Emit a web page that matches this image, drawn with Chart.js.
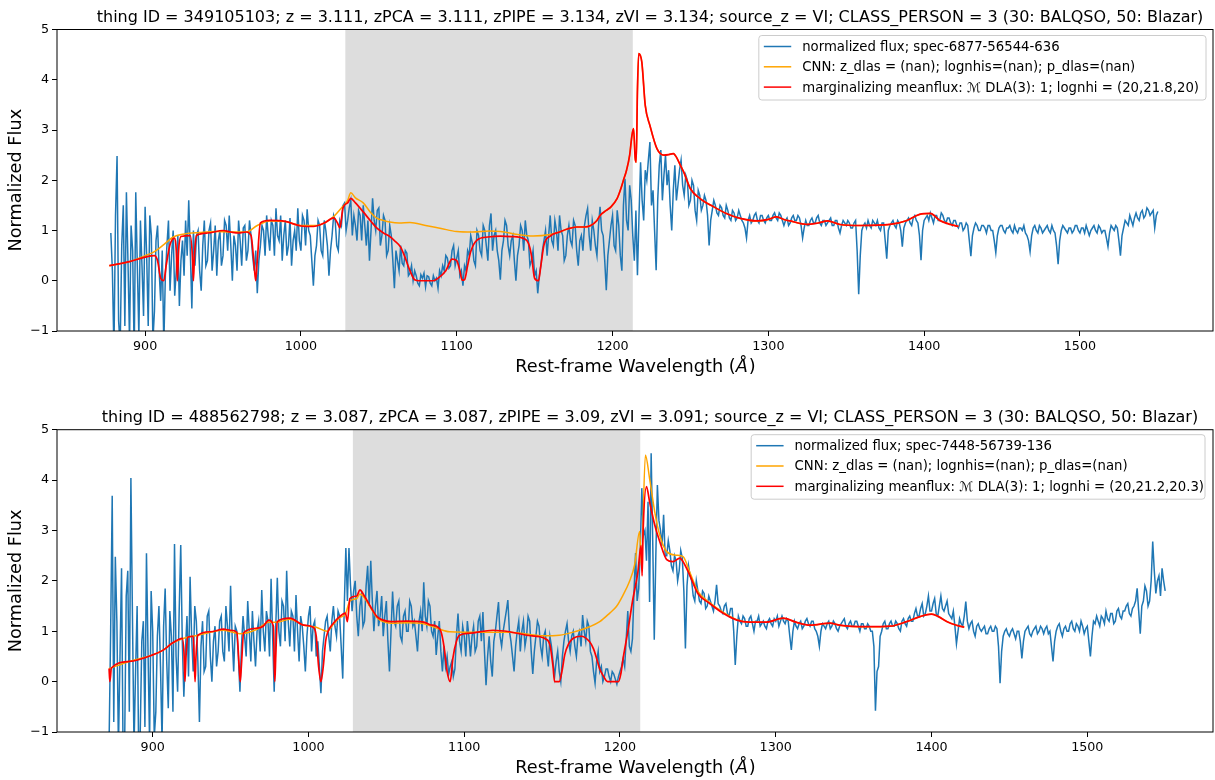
<!DOCTYPE html>
<html>
<head>
<meta charset="utf-8">
<script src="https://cdn.jsdelivr.net/npm/chart.js@4.4.0/dist/chart.umd.min.js"></script>
<style>
  html, body { margin: 0; padding: 0; background: #ffffff; }
  #wrap { position: relative; width: 1215px; height: 780px; overflow: hidden; }
  canvas { position: absolute; left: 0; }
</style>
</head>
<body>
<div id="wrap">
  <canvas id="panelTop" width="1215" height="400" style="top:0"></canvas>
  <canvas id="panelBottom" width="1215" height="380" style="top:400px"></canvas>
</div>
<script>
// ---------- shared axis ticks ----------
const xTickValues = [900, 1000, 1100, 1200, 1300, 1400, 1500];
const yTickValues = [-1, 0, 1, 2, 3, 4, 5];

// ---------- upper panel: thing ID 349105103 ----------
const topTitle = "thing ID = 349105103; z = 3.111, zPCA = 3.111, zPIPE = 3.134, zVI = 3.134; source_z = VI; CLASS_PERSON = 3 (30: BALQSO, 50: Blazar)";
const topLegend = [
  "normalized flux; spec-6877-56544-636",
  "CNN: z_dlas = (nan); lognhis=(nan); p_dlas=(nan)",
  "marginalizing meanflux: \u2133 DLA(3): 1; lognhi = (20,21.8,20)"
];
const topWaveStart = 878;   // first pixel, Angstrom (rest frame)
const topWaveStep = 1;      // pixel spacing, Angstrom
const topFlux = [
  0.95, 0.2, -1.4, 1.3, 2.48, -0.8, -1.3, 0.7, 1.5, -0.9, 1.76, 0.4, -1.2, 1.1, 0.6, -1.5, 1.76, 0.3, -1.1, 1.2,
  0.3, -0.7, 1.47, 0.5, -0.9, 1.3, 0.9, -1.2, -0.6, 0.8, 1.1, 0.2, -0.4, 0.6, -1.3, 0.1, 0.7, 1.2, -0.2, 0.5,
  1.0, -0.3, 0.2, 0.9, -0.5, 0.4, 0.8, 0.1, 1.2, 0.5, 1.6, 0.6, -0.55, 1.0, 0.3, 0.9, 1.0, 0.2, -0.2, 0.7,
  1.2, 0.3, 0.4, 1.0, 1.15, 0.2, 0.6, 1.1, 0.1, 0.8, 1.0, 0.3, 0.5, 1.2, 1.1, 0.6, 1.3, 0.7, 0.0, 0.9,
  0.7, 0.2, 1.2, 0.8, 0.3, 1.05, 1.1, 0.4, 0.6, 1.2, 0.9, 0.5, 0.2, 0.6, -0.25, 0.4, 0.7, 1.1, 1.0, 0.5,
  1.3, 0.9, 0.6, 1.2, 1.1, 0.5, 1.44, 0.9, 0.8, 1.3, 0.4, 0.9, 1.2, 0.5, 0.7, 1.25, 0.3, 0.8, 1.0, 0.6,
  1.44, 0.8, 0.6, 1.3, 1.2, 0.7, 1.42, 1.0, 0.9, 0.4, -0.1, 0.5, 0.7, 1.2, 1.1, 0.6, 0.5, 1.2, 1.0, 0.7,
  0.1, 0.6, 0.9, 1.3, 1.2, 0.7, 0.6, 1.2, 1.1, 1.5, 1.55, 1.0, 1.2, 1.45, 1.6, 0.9, 1.3, 1.1, 0.8, 1.4,
  1.3, 0.8, 1.5, 1.1, 0.7, 1.2, 0.4, 1.0, 1.64, 1.2, 1.0, 1.4, 1.45, 0.7, 0.9, 1.3, 1.2, 0.5, 0.6, 1.1,
  0.9, 0.4, -0.15, 0.6, 0.4, 0.2, 0.7, 0.35, 0.3, 0.6, 0.55, 0.1, 0.15, 0.3, 0.0, 0.2, 0.1, -0.05, -0.1, 0.12,
  0.05, 0.15, -0.12, 0.1, 0.08, -0.05, -0.1, 0.1, 0.0, 0.05, -0.15, 0.2, 0.1, 0.3, 0.2, 0.5, 0.45, 0.25, 0.3, 0.6,
  0.7, 0.3, 0.45, 0.6, 0.1, 0.2, -0.1, 0.3, 0.2, 0.6, 0.5, 0.9, 0.75, 0.4, 0.3, 1.0, 0.9, 0.6, 0.5, 1.1,
  1.0, 0.7, 0.4, 1.1, 1.34, 0.6, 0.9, 1.0, 0.6, 0.4, 0.02, 0.6, 0.8, 1.2, 1.1, 0.7, 0.5, 0.8, 0.9, 0.4,
  0.0, 0.5, 0.7, 1.1, 1.0, 0.6, 1.2, 0.9, 0.8, 0.3, 0.4, 0.6, 0.1, 0.2, -0.25, 0.1, 0.3, 0.6, 0.8, 1.0,
  0.5, 0.9, 1.3, 0.8, 0.7, 1.2, 1.0, 0.6, 1.3, 1.0, 0.9, 0.4, 0.5, 0.9, 1.1, 0.8, 0.7, 1.2, 1.1, 0.6,
  0.3, 0.8, 0.9, 0.6, 1.1, 1.3, 1.44, 0.9, 0.6, 1.2, 1.0, 0.7, 0.5, 1.1, 1.47, 1.0, 0.9, 0.4, -0.19, 0.5,
  0.8, 1.1, 1.3, 0.7, 0.6, 1.4, 1.1, 0.5, 0.2, 1.5, 2.03, 1.2, 1.0, 1.9, 1.6, 0.9, 0.4, 1.4, 0.11, 1.3,
  2.36, 1.6, 1.2, 2.2, 2.0, 2.4, 2.76, 1.5, 1.8, 1.0, 0.21, 1.6, 2.3, 2.6, 1.6, 2.1, 2.5, 1.9, 2.2, 1.5,
  1.0, 1.8, 2.3, 1.6, 1.9, 2.2, 2.4, 1.9, 1.7, 2.1, 2.0, 1.5, 1.6, 2.0, 1.9, 1.4, 1.2, 1.8, 1.7, 1.4,
  1.5, 1.7, 1.6, 1.3, 0.7, 1.2, 1.4, 1.6, 1.5, 1.35, 1.3, 1.5, 1.45, 1.3, 1.25, 1.5, 1.4, 1.25, 1.2, 1.4,
  1.35, 1.2, 1.25, 1.4, 1.3, 1.2, 1.15, 1.05, 0.85, 1.2, 1.3, 1.15, 1.2, 1.3, 1.35, 1.2, 1.15, 1.3, 1.3, 1.2,
  1.15, 1.25, 1.3, 1.2, 1.2, 1.3, 1.35, 1.25, 1.2, 1.35, 1.3, 1.2, 1.1, 1.2, 1.25, 1.1, 1.15, 1.25, 1.3, 1.2,
  1.2, 1.3, 1.25, 1.1, 0.85, 1.05, 1.2, 1.1, 1.1, 1.2, 1.25, 1.15, 1.15, 1.25, 1.3, 1.15, 1.1, 1.2, 1.2, 1.1,
  1.15, 1.2, 1.25, 1.1, 1.1, 1.2, 1.2, 1.05, 0.95, 1.1, 1.2, 1.15, 1.1, 1.2, 1.15, 1.05, 1.05, 1.15, 1.2, 0.6,
  -0.27, 0.5, 1.0, 1.1, 1.15, 1.05, 1.2, 1.1, 1.05, 1.2, 1.15, 1.1, 1.2, 1.05, 1.0, 1.15, 1.15, 0.8, 0.44, 1.0,
  1.1, 1.15, 1.2, 1.1, 1.05, 1.2, 1.15, 1.0, 0.68, 1.05, 1.15, 1.2, 1.25, 1.15, 1.1, 1.25, 1.3, 1.2, 1.15, 0.9,
  0.41, 1.0, 1.2, 1.25, 1.3, 1.2, 1.35, 1.25, 1.15, 1.3, 1.3, 1.2, 1.2, 1.35, 1.3, 1.2, 1.15, 1.25, 1.25, 1.15,
  1.1, 1.2, 1.2, 1.1, 1.05, 1.15, 1.15, 1.0, 1.05, 1.15, 1.1, 0.8, 0.49, 0.9, 1.05, 1.15, 1.1, 1.0, 1.0, 1.1,
  1.1, 1.05, 0.95, 1.1, 1.1, 1.0, 1.0, 0.8, 0.56, 0.9, 1.05, 1.1, 1.1, 1.0, 0.95, 1.05, 1.05, 1.1, 1.0, 0.95,
  1.1, 1.0, 0.95, 1.05, 1.05, 1.0, 1.1, 0.95, 0.9, 0.8, 0.58, 0.9, 1.05, 1.1, 1.0, 0.95, 1.1, 1.05, 0.95, 1.0,
  1.05, 1.1, 1.0, 0.95, 1.1, 1.0, 0.95, 0.7, 0.33, 0.8, 1.0, 1.1, 1.05, 1.0, 0.95, 1.05, 1.05, 0.95, 1.0, 1.1,
  1.1, 1.0, 0.95, 1.05, 1.05, 0.95, 1.1, 1.0, 0.9, 1.0, 1.05, 1.1, 1.0, 0.95, 1.1, 1.05, 0.95, 1.0, 1.0, 0.85,
  0.68, 0.95, 1.1, 1.05, 1.0, 1.1, 1.05, 0.8, 0.5, 0.9, 1.05, 1.2, 1.15, 1.1, 1.3, 1.2, 1.1, 1.25, 1.35, 1.25,
  1.2, 1.35, 1.4, 1.25, 1.3, 1.45, 1.4, 1.3, 1.35, 1.4, 1.05, 1.3, 1.38
];
const topCnnWave = [877, 890, 900, 906, 912, 918, 925, 935, 945, 955, 965, 972, 980, 990, 1000, 1010, 1020, 1026, 1030, 1032, 1035, 1040, 1045, 1049, 1053, 1057, 1063, 1070, 1080, 1090, 1100, 1110, 1121, 1128, 1139, 1149, 1160, 1166, 1171, 1177, 1182, 1186, 1190, 1192, 1196, 1199, 1203, 1205, 1207, 1209, 1211, 1212.5, 1213.5, 1214.5, 1215.2, 1216, 1216.8, 1218.8, 1221, 1224, 1228.5, 1233, 1236, 1239, 1241, 1243.5, 1245.6, 1250, 1256, 1265, 1273, 1282, 1293, 1300, 1305, 1310, 1314, 1325, 1332, 1338, 1346, 1359, 1378, 1389, 1397, 1404, 1410, 1417, 1422];
const topCnnFlux = [0.3, 0.38, 0.5, 0.58, 0.72, 0.87, 0.93, 0.96, 0.98, 0.97, 0.97, 1.1, 1.19, 1.18, 1.1, 1.1, 1.25, 1.45, 1.6, 1.75, 1.65, 1.55, 1.35, 1.24, 1.2, 1.17, 1.15, 1.16, 1.1, 1.04, 0.98, 0.97, 0.99, 0.98, 0.92, 0.89, 0.92, 0.97, 1.03, 1.07, 1.07, 1.1, 1.2, 1.3, 1.4, 1.47, 1.64, 1.8, 2.0, 2.2, 2.5, 2.9, 3.03, 2.45, 2.36, 3.8, 4.52, 4.35, 3.49, 3.09, 2.63, 2.5, 2.51, 2.53, 2.46, 2.3, 2.17, 1.83, 1.64, 1.47, 1.34, 1.24, 1.19, 1.22, 1.27, 1.22, 1.19, 1.12, 1.15, 1.19, 1.12, 1.1, 1.12, 1.2, 1.32, 1.34, 1.2, 1.12, 1.08];
const topMfWave = [877, 890, 900, 906, 908, 910, 912, 913.5, 916, 919, 920, 920.7, 921.5, 923, 929, 930.5, 931, 931.7, 933, 940, 950, 955, 960, 965, 968, 970, 971, 972, 974, 980, 990, 1000, 1008, 1015, 1021, 1023.5, 1025, 1027, 1030, 1032, 1035, 1040, 1045, 1049, 1053, 1057, 1060, 1064, 1067, 1070, 1073, 1076, 1085, 1088, 1093, 1097, 1100, 1102, 1103.5, 1105, 1107, 1109, 1113, 1120, 1128, 1135, 1143, 1146, 1148, 1150, 1152.5, 1154, 1156, 1160, 1166, 1171, 1177, 1182, 1186, 1190, 1192, 1196, 1199, 1203, 1205, 1207, 1209, 1211, 1212.5, 1213.5, 1214.5, 1215.2, 1216, 1216.8, 1218.8, 1221, 1224, 1228.5, 1233, 1236, 1239, 1241, 1243.5, 1245.6, 1250, 1256, 1265, 1273, 1282, 1293, 1300, 1305, 1310, 1314, 1325, 1332, 1338, 1346, 1359, 1378, 1389, 1397, 1404, 1410, 1417, 1422];
const topMfFlux = [0.3, 0.38, 0.47, 0.5, 0.4, 0.05, 0.0, 0.3, 0.72, 0.85, 0.6, 0.0, 0.6, 0.88, 0.9, 0.4, 0.0, 0.5, 0.9, 0.95, 1.0, 0.97, 0.95, 0.97, 0.9, 0.3, 0.0, 0.4, 1.15, 1.2, 1.18, 1.09, 1.08, 1.15, 1.25, 1.15, 1.05, 1.45, 1.55, 1.64, 1.55, 1.37, 1.18, 1.04, 0.95, 0.88, 0.8, 0.67, 0.45, 0.2, 0.02, 0.0, 0.0, 0.05, 0.2, 0.43, 0.4, 0.2, 0.01, 0.02, 0.3, 0.58, 0.81, 0.87, 0.89, 0.88, 0.84, 0.75, 0.5, 0.05, 0.0, 0.3, 0.71, 0.89, 0.97, 1.03, 1.07, 1.07, 1.1, 1.2, 1.3, 1.4, 1.47, 1.64, 1.8, 2.0, 2.2, 2.5, 2.9, 3.03, 2.45, 2.36, 3.8, 4.52, 4.35, 3.49, 3.09, 2.63, 2.5, 2.51, 2.53, 2.46, 2.3, 2.17, 1.83, 1.64, 1.47, 1.34, 1.24, 1.19, 1.22, 1.27, 1.22, 1.19, 1.12, 1.15, 1.19, 1.12, 1.1, 1.12, 1.2, 1.32, 1.34, 1.2, 1.12, 1.08];
const topSearchRange = [1028.5, 1213];

// ---------- lower panel: thing ID 488562798 ----------
const bottomTitle = "thing ID = 488562798; z = 3.087, zPCA = 3.087, zPIPE = 3.09, zVI = 3.091; source_z = VI; CLASS_PERSON = 3 (30: BALQSO, 50: Blazar)";
const bottomLegend = [
  "normalized flux; spec-7448-56739-136",
  "CNN: z_dlas = (nan); lognhis=(nan); p_dlas=(nan)",
  "marginalizing meanflux: \u2133 DLA(3): 1; lognhi = (20,21.2,20.3)"
];
const bottomWaveStart = 872;
const bottomWaveStep = 1;
const bottomFlux = [
  -1.2, 1.0, 3.69, -0.8, 2.48, 1.2, -1.3, 0.5, 2.25, -1.5, -1.2, 1.7, 2.2, -0.6, 4.04, 1.3, -1.3, 0.2, 1.5, -1.4,
  -1.0, 0.8, 1.2, -0.9, 2.55, 0.6, -1.2, 1.8, 1.0, -1.1, -0.6, 0.9, 1.5, 0.3, -1.2, 1.1, 1.85, 0.4, -0.53, 1.4,
  0.9, -0.6, 2.73, 0.5, -0.2, 1.4, 2.71, 0.8, -0.3, 0.6, 1.3, 0.1, 2.08, 0.9, 0.2, 1.5, 1.2, 0.4, -0.8, 0.7,
  1.2, 0.2, 0.3, 1.3, 1.4, 0.5, 0.0, 0.8, 1.1, 0.3, 0.6, 1.2, 1.3, 0.6, 0.4, 1.5, 1.1, 0.6, 1.9, 0.9,
  0.2, 1.1, 1.0, 0.5, -0.2, 0.7, 1.3, 0.9, 0.5, 1.6, 1.0, 0.4, 1.4, 0.8, 0.3, 1.0, 1.2, 0.6, 1.82, 1.0,
  0.6, 1.4, 1.2, 0.5, 2.04, 0.9, -0.2, 1.1, 2.06, 1.0, 0.7, 1.6, 1.5, 0.8, 2.2, 1.2, 0.7, 1.4, 1.3, 0.6,
  1.72, 1.0, 0.4, 1.3, 1.1, 0.7, 0.2, 0.9, 1.3, 1.5, 0.6, 1.1, 1.2, 0.5, 0.8, 0.3, -0.23, 0.6, 0.9, 1.2,
  1.3, 0.9, 0.6, 1.2, 1.5, 1.1, 0.9, 1.4, 1.3, 0.7, 0.06, 1.5, 2.65, 1.6, 2.65, 1.9, 1.4, 1.8, 2.0, 1.3,
  0.9, 1.5, 1.7, 1.1, 1.2, 1.9, 2.3, 1.5, 2.4, 1.6, 1.0, 1.5, 1.8, 1.1, 1.3, 1.7, 0.9, 1.3, 1.6, 0.8,
  0.2, 1.0, 1.79, 1.2, 1.1, 1.5, 1.6, 0.9, 0.8, 1.3, 1.4, 1.0, 1.0, 1.6, 1.5, 1.1, 1.2, 0.9, 0.6, 1.2,
  1.4, 1.0, 1.97, 1.3, 1.1, 1.6, 1.5, 1.0, 0.9, 1.2, 0.53, 0.9, 1.2, 0.6, 0.2, 0.7, 0.3, 0.5, 0.15, 0.3,
  0.4, 0.1, 0.25, 0.9, 1.35, 0.8, 0.6, 1.1, 0.9, 0.5, 1.2, 0.9, 0.5, 0.9, 1.1, 0.6, 0.7, 1.2, 1.3, 0.8,
  1.38, 0.6, -0.07, 0.5, 0.9, 0.4, 0.1, 0.8, 1.0, 1.3, 1.58, 0.9, 0.7, 1.0, 1.2, 1.4, 1.62, 1.0, 0.8, 0.5,
  0.2, 0.7, 1.0, 1.2, 0.6, 1.0, 1.2, 0.7, 0.9, 1.3, 1.2, 0.6, 0.15, 0.6, 0.9, 1.2, 1.1, 0.7, 0.5, 0.9,
  1.0, 0.6, 0.3, 0.9, 0.7, 0.4, 0.1, 0.4, 0.6, 0.2, 0.0, 0.5, 0.8, 1.0, 1.15, 0.8, 0.6, 0.9, 1.0, 0.7,
  0.5, 0.9, 1.0, 0.7, 1.32, 1.0, 0.8, 1.2, 1.1, 0.6, 0.5, 0.2, -0.03, 0.4, 0.6, 0.2, 0.3, 0.0, 0.1, 0.25,
  0.25, 0.1, 0.0, 0.2, 0.15, 0.05, -0.05, 0.1, 0.2, 0.3, 0.45, 0.3, 0.85, 1.4, 0.7, 0.6, 0.85, 1.8, 2.55, 1.6,
  1.85, 2.6, 3.84, 2.9, 3.0, 2.4, 3.57, 1.58, 4.53, 2.8, 0.83, 2.5, 3.9, 3.2, 3.0, 2.7, 3.31, 2.5, 2.5, 2.8,
  2.6, 2.3, 2.2, 2.5, 2.4, 2.0, 2.2, 2.6, 2.45, 1.8, 0.66, 1.9, 2.3, 2.1, 2.0, 1.7, 1.6, 2.0, 1.8, 1.6,
  1.55, 1.8, 1.75, 1.45, 1.5, 1.7, 1.6, 1.5, 1.4, 1.6, 1.92, 1.55, 1.5, 1.4, 1.35, 1.5, 1.55, 1.35, 1.3, 1.45,
  1.45, 1.0, 0.33, 0.9, 1.3, 1.2, 1.15, 1.3, 1.25, 1.1, 1.1, 1.25, 1.3, 1.15, 1.0, 1.2, 1.2, 1.3, 1.1, 1.15,
  1.2, 1.1, 1.05, 1.2, 1.25, 1.15, 1.1, 1.25, 1.2, 1.3, 1.1, 1.2, 1.3, 1.2, 1.15, 1.25, 1.2, 0.9, 0.63, 1.0,
  1.2, 1.1, 1.05, 1.15, 1.2, 1.05, 1.1, 1.2, 1.25, 1.15, 1.1, 1.2, 1.2, 1.05, 1.0, 0.9, 0.7, 1.0, 1.15, 1.1,
  1.05, 1.15, 1.2, 1.05, 1.1, 1.2, 1.15, 1.05, 1.0, 1.1, 1.15, 1.2, 1.25, 1.1, 1.05, 1.15, 1.2, 1.1, 1.1, 1.2,
  1.2, 1.1, 1.0, 1.15, 1.15, 1.05, 1.05, 1.15, 1.1, 1.0, 1.0, 0.7, -0.58, 0.2, 0.3, 0.9, 1.0, 1.15, 1.2, 1.05,
  1.05, 1.15, 1.2, 1.1, 1.1, 1.2, 1.15, 1.05, 1.0, 1.2, 1.25, 1.15, 1.1, 1.25, 1.3, 1.2, 1.2, 1.35, 1.45, 1.3,
  1.3, 1.45, 1.55, 1.3, 1.35, 1.5, 1.7, 1.4, 1.4, 1.55, 1.65, 1.35, 1.3, 1.5, 1.7, 1.45, 1.4, 1.5, 1.6, 1.35,
  1.3, 1.25, 1.4, 1.1, 0.75, 1.0, 1.25, 1.15, 1.1, 1.3, 1.59, 1.2, 1.05, 1.15, 1.2, 1.0, 0.9, 1.1, 1.15, 1.05,
  1.0, 1.05, 1.1, 0.95, 0.95, 1.05, 1.1, 1.0, 1.0, 1.1, 1.05, 0.7, -0.03, 0.6, 0.9, 1.0, 1.05, 0.95, 0.9, 1.0,
  1.05, 0.95, 0.85, 1.0, 1.0, 0.8, 0.46, 0.8, 1.0, 1.05, 1.1, 0.95, 0.9, 1.0, 1.05, 1.1, 0.95, 1.0, 1.1, 1.05,
  0.95, 1.05, 1.1, 0.95, 1.0, 0.7, 0.4, 0.8, 1.0, 1.1, 1.15, 1.0, 0.9, 1.05, 1.1, 1.0, 1.0, 1.15, 1.2, 1.05,
  1.0, 1.15, 1.1, 1.0, 1.2, 1.1, 0.95, 1.05, 1.1, 0.8, 0.5, 0.9, 1.2, 1.15, 1.3, 1.2, 1.1, 1.3, 1.25, 1.15,
  1.4, 1.25, 1.2, 1.35, 1.35, 1.15, 1.2, 1.4, 1.45, 1.3, 1.25, 1.4, 1.4, 1.5, 1.55, 1.35, 1.3, 1.45, 1.5, 1.6,
  1.85, 1.4, 0.95, 1.5, 1.6, 1.9, 1.8, 1.5, 1.6, 2.0, 2.78, 2.2, 1.75, 2.0, 2.1, 1.7, 2.25, 2.0, 1.8
];
const bottomCnnWave = [872, 885, 900, 907, 912.4, 920, 929, 937, 945.6, 956, 967, 974.5, 980, 988, 997, 1005, 1012, 1016, 1020, 1023.7, 1026.6, 1031, 1033, 1035.5, 1039.8, 1044, 1048, 1053, 1063, 1074, 1082.6, 1090.6, 1112, 1129, 1150.6, 1161, 1172, 1180.5, 1187, 1193.4, 1197.7, 1202, 1206, 1209.4, 1212.6, 1213.7, 1216.3, 1219, 1222.3, 1225.5, 1230, 1236, 1240.5, 1244.7, 1250, 1257.6, 1266, 1275, 1283, 1294, 1304.7, 1313, 1322, 1335, 1341, 1358.4, 1373.4, 1384, 1392.7, 1400, 1404.5, 1410, 1416, 1421];
const bottomCnnFlux = [0.26, 0.4, 0.53, 0.63, 0.76, 0.86, 0.92, 0.98, 1.02, 0.95, 1.04, 1.18, 1.18, 1.24, 1.12, 1.08, 1.0, 1.14, 1.27, 1.34, 1.6, 1.65, 1.74, 1.68, 1.47, 1.27, 1.19, 1.16, 1.17, 1.15, 1.06, 0.99, 0.98, 0.98, 0.91, 0.92, 1.0, 1.09, 1.19, 1.36, 1.49, 1.72, 1.98, 2.32, 2.98, 2.3, 4.5, 4.03, 3.37, 2.91, 2.58, 2.51, 2.48, 2.18, 1.79, 1.57, 1.38, 1.23, 1.18, 1.18, 1.26, 1.18, 1.12, 1.16, 1.12, 1.09, 1.1, 1.19, 1.29, 1.34, 1.29, 1.19, 1.12, 1.08];
const bottomMfWave = [872, 872.5, 873.5, 885, 900, 907, 912.4, 919, 920.2, 920.7, 921.4, 922.5, 926, 926.7, 927.2, 927.8, 929, 937, 945.6, 950, 954, 955.5, 956.2, 957, 958.4, 967, 971, 974.5, 977.5, 978, 978.4, 979, 980, 988, 997, 1003, 1005, 1006.5, 1008, 1009.5, 1011, 1012.5, 1016, 1020, 1023.7, 1025, 1026.6, 1031, 1033, 1035.5, 1039.8, 1044, 1048, 1053, 1063, 1074, 1078, 1082.6, 1085, 1087, 1089, 1091, 1092.7, 1095, 1097, 1103.5, 1118.5, 1129, 1140, 1148.6, 1152, 1155, 1157, 1158, 1161, 1163, 1164.5, 1167, 1170, 1175, 1180.5, 1183, 1185, 1187, 1189, 1192, 1199, 1200.5, 1202, 1205, 1208, 1211.5, 1213.5, 1214.2, 1214.8, 1217, 1219, 1222.3, 1225.5, 1230, 1234, 1238.4, 1240.5, 1244.7, 1250, 1257.6, 1266, 1275, 1283, 1294, 1304.7, 1313, 1322, 1335, 1341, 1358.4, 1373.4, 1384, 1392.7, 1400, 1404.5, 1410, 1416, 1421];
const bottomMfFlux = [0.26, 0.0, 0.27, 0.4, 0.53, 0.63, 0.76, 0.86, 0.5, 0.0, 0.5, 0.88, 0.9, 0.4, 0.0, 0.5, 0.92, 0.99, 1.04, 1.02, 0.98, 0.3, 0.0, 0.35, 0.97, 1.06, 1.1, 1.22, 1.1, 0.4, 0.0, 0.5, 1.19, 1.26, 1.12, 1.08, 0.9, 0.3, 0.0, 0.3, 0.8, 0.99, 1.16, 1.29, 1.36, 1.19, 1.65, 1.7, 1.82, 1.72, 1.49, 1.29, 1.22, 1.19, 1.2, 1.18, 1.13, 1.09, 1.0, 0.7, 0.2, 0.0, 0.46, 0.8, 0.92, 0.96, 1.02, 0.99, 0.92, 0.89, 0.85, 0.73, 0.3, 0.0, 0.0, 0.25, 0.53, 0.75, 0.86, 0.9, 0.79, 0.65, 0.46, 0.25, 0.13, 0.0, 0.0, 0.15, 0.46, 0.99, 1.59, 2.18, 2.7, 2.1, 2.95, 3.87, 3.57, 3.11, 2.78, 2.42, 2.38, 2.45, 2.38, 2.12, 1.75, 1.55, 1.36, 1.22, 1.18, 1.18, 1.26, 1.18, 1.12, 1.16, 1.12, 1.09, 1.1, 1.19, 1.29, 1.34, 1.29, 1.19, 1.12, 1.08];
const bottomSearchRange = [1028.5, 1213];

// ---------- drawing ----------
const COLORS = { flux: '#1f77b4', cnn: '#ffa500', mf: '#ff0000', span: '#dddddd' };
const FONT = "'DejaVu Sans', 'Liberation Sans', sans-serif";

function pairs(xs, ys) { return xs.map((x, i) => ({ x: x, y: ys[i] })); }
function gridPairs(start, step, ys) { return ys.map((y, i) => ({ x: start + i * step, y: y })); }
function minusLabel(v) { return v < 0 ? '\u2212' + Math.abs(v) : String(v); }

const panelDecor = {
  id: 'panelDecor',
  beforeDatasetsDraw(chart, args, o) {
    const { ctx, chartArea: a, scales: { x } } = chart;
    const x1 = x.getPixelForValue(o.span[0]);
    const x2 = x.getPixelForValue(o.span[1]);
    ctx.save();
    ctx.fillStyle = COLORS.span;
    ctx.fillRect(x1, a.top, x2 - x1, a.bottom - a.top);
    ctx.restore();
  },
  afterDatasetsDraw(chart, args, o) {
    const { ctx, chartArea: a } = chart;
    ctx.save();
    // axes frame
    ctx.strokeStyle = '#000';
    ctx.lineWidth = 1;
    ctx.strokeRect(a.left, a.top, a.right - a.left, a.bottom - a.top);
    // legend box
    const fs = 13.25;
    ctx.font = fs + 'px ' + FONT;
    const tw = Math.max(...o.legend.map(t => ctx.measureText(t).width));
    const pad = 5, handle = 27.4, gap = 11, row = 20.3;
    const w = pad + handle + gap + tw + o.legendRightPad;
    const h = 64.5;
    const right = a.right - o.legendInsetRight;
    const left = right - w;
    const top = a.top + o.legendInsetTop;
    ctx.beginPath();
    if (ctx.roundRect) ctx.roundRect(left, top, w, h, 3); else ctx.rect(left, top, w, h);
    ctx.fillStyle = 'rgba(255,255,255,0.8)';
    ctx.fill();
    ctx.strokeStyle = '#cccccc';
    ctx.lineWidth = 1;
    ctx.stroke();
    const cols = [COLORS.flux, COLORS.cnn, COLORS.mf];
    ctx.textBaseline = 'middle';
    ctx.textAlign = 'left';
    o.legend.forEach((t, i) => {
      const y = top + 11 + i * row;
      ctx.beginPath();
      ctx.moveTo(left + pad, y);
      ctx.lineTo(left + pad + handle, y);
      ctx.strokeStyle = cols[i];
      ctx.lineWidth = 1.5;
      ctx.stroke();
      ctx.fillStyle = '#000';
      ctx.fillText(t, left + pad + handle + gap, y + 1);
    });
    ctx.restore();
  },
  afterDraw(chart, args, o) {
    const { ctx, chartArea: a } = chart;
    const cx = (a.left + a.right) / 2;
    ctx.save();
    ctx.fillStyle = '#000';
    // title
    ctx.font = '16px ' + FONT;
    ctx.textAlign = 'center';
    ctx.textBaseline = 'alphabetic';
    ctx.fillText(o.title, cx + 15, a.top - 7.5);
    // x axis label with italic Angstrom sign
    const lf = '17.7px ' + FONT;
    const lfi = 'italic 17.7px ' + FONT;
    const p1 = 'Rest-frame Wavelength (', p2 = '\u00c5', p3 = ')';
    ctx.font = lf; const w1 = ctx.measureText(p1).width, w3 = ctx.measureText(p3).width;
    ctx.font = lfi; const w2 = ctx.measureText(p2).width;
    const x0 = cx - (w1 + w2 + w3) / 2;
    const yb = a.bottom + 40.5;
    ctx.textAlign = 'left';
    ctx.font = lf; ctx.fillText(p1, x0, yb);
    ctx.font = lfi; ctx.fillText(p2, x0 + w1, yb);
    ctx.font = lf; ctx.fillText(p3, x0 + w1 + w2 + 1, yb);
    // y axis label
    ctx.translate(16.5, (a.top + a.bottom) / 2);
    ctx.rotate(-Math.PI / 2);
    ctx.font = lf;
    ctx.textAlign = 'center';
    ctx.textBaseline = 'middle';
    ctx.fillText('Normalized Flux', 0, 0);
    ctx.restore();
  }
};

function buildPanel(canvasId, p) {
  const tickFont = { family: FONT, size: 12.7 };
  return new Chart(document.getElementById(canvasId), {
    type: 'line',
    data: {
      datasets: [
        { label: p.legend[0], order: 3, data: gridPairs(p.waveStart, p.waveStep, p.flux), borderColor: COLORS.flux, borderWidth: 1.5, pointRadius: 0, tension: 0 },
        { label: p.legend[1], order: 2, data: pairs(p.cnnWave, p.cnnFlux), borderColor: COLORS.cnn, borderWidth: 1.5, pointRadius: 0, cubicInterpolationMode: 'monotone' },
        { label: p.legend[2], order: 1, data: pairs(p.mfWave, p.mfFlux), borderColor: COLORS.mf, borderWidth: 1.7, pointRadius: 0, cubicInterpolationMode: 'monotone' }
      ]
    },
    options: {
      responsive: false,
      animation: false,
      parsing: false,
      normalized: true,
      events: [],
      layout: { padding: { top: p.padTop, right: 2, left: 0, bottom: 0 } },
      plugins: {
        legend: { display: false },
        tooltip: { enabled: false },
        title: { display: false },
        panelDecor: {
          span: p.span, legend: p.legend, title: p.title,
          legendInsetRight: p.legendInsetRight, legendInsetTop: p.legendInsetTop, legendRightPad: p.legendRightPad
        }
      },
      scales: {
        x: {
          type: 'linear', min: p.xmin, max: p.xmax,
          afterBuildTicks: s => { s.ticks = xTickValues.map(v => ({ value: v })); },
          afterFit: s => { s.height = p.xAxisHeight; },
          grid: { display: true, drawOnChartArea: false, drawTicks: true, tickLength: 5, color: '#000', lineWidth: 1 },
          border: { display: false },
          ticks: { color: '#000', font: tickFont, padding: 3, maxRotation: 0, autoSkip: false, callback: v => String(v) }
        },
        y: {
          type: 'linear', min: -1, max: 5,
          afterBuildTicks: s => { s.ticks = yTickValues.map(v => ({ value: v })); },
          afterFit: s => { s.width = 57; },
          grid: { display: true, drawOnChartArea: false, drawTicks: true, tickLength: 5, color: '#000', lineWidth: 1 },
          border: { display: false },
          ticks: { color: '#000', font: tickFont, padding: 3, autoSkip: false, callback: v => minusLabel(v) }
        }
      }
    },
    plugins: [panelDecor]
  });
}

buildPanel('panelTop', {
  title: topTitle, legend: topLegend,
  waveStart: topWaveStart, waveStep: topWaveStep, flux: topFlux,
  cnnWave: topCnnWave, cnnFlux: topCnnFlux, mfWave: topMfWave, mfFlux: topMfFlux,
  span: topSearchRange, xmin: 843.45, xmax: 1585.4,
  padTop: 29.5, xAxisHeight: 69, legendInsetRight: 7, legendInsetTop: 6, legendRightPad: 7
});
buildPanel('panelBottom', {
  title: bottomTitle, legend: bottomLegend,
  waveStart: bottomWaveStart, waveStep: bottomWaveStep, flux: bottomFlux,
  cnnWave: bottomCnnWave, cnnFlux: bottomCnnFlux, mfWave: bottomMfWave, mfFlux: bottomMfFlux,
  span: bottomSearchRange, xmin: 838.56, xmax: 1580.7,
  padTop: 29.7, xAxisHeight: 48, legendInsetRight: 8, legendInsetTop: 5, legendRightPad: 1
});
</script>
</body>
</html>
